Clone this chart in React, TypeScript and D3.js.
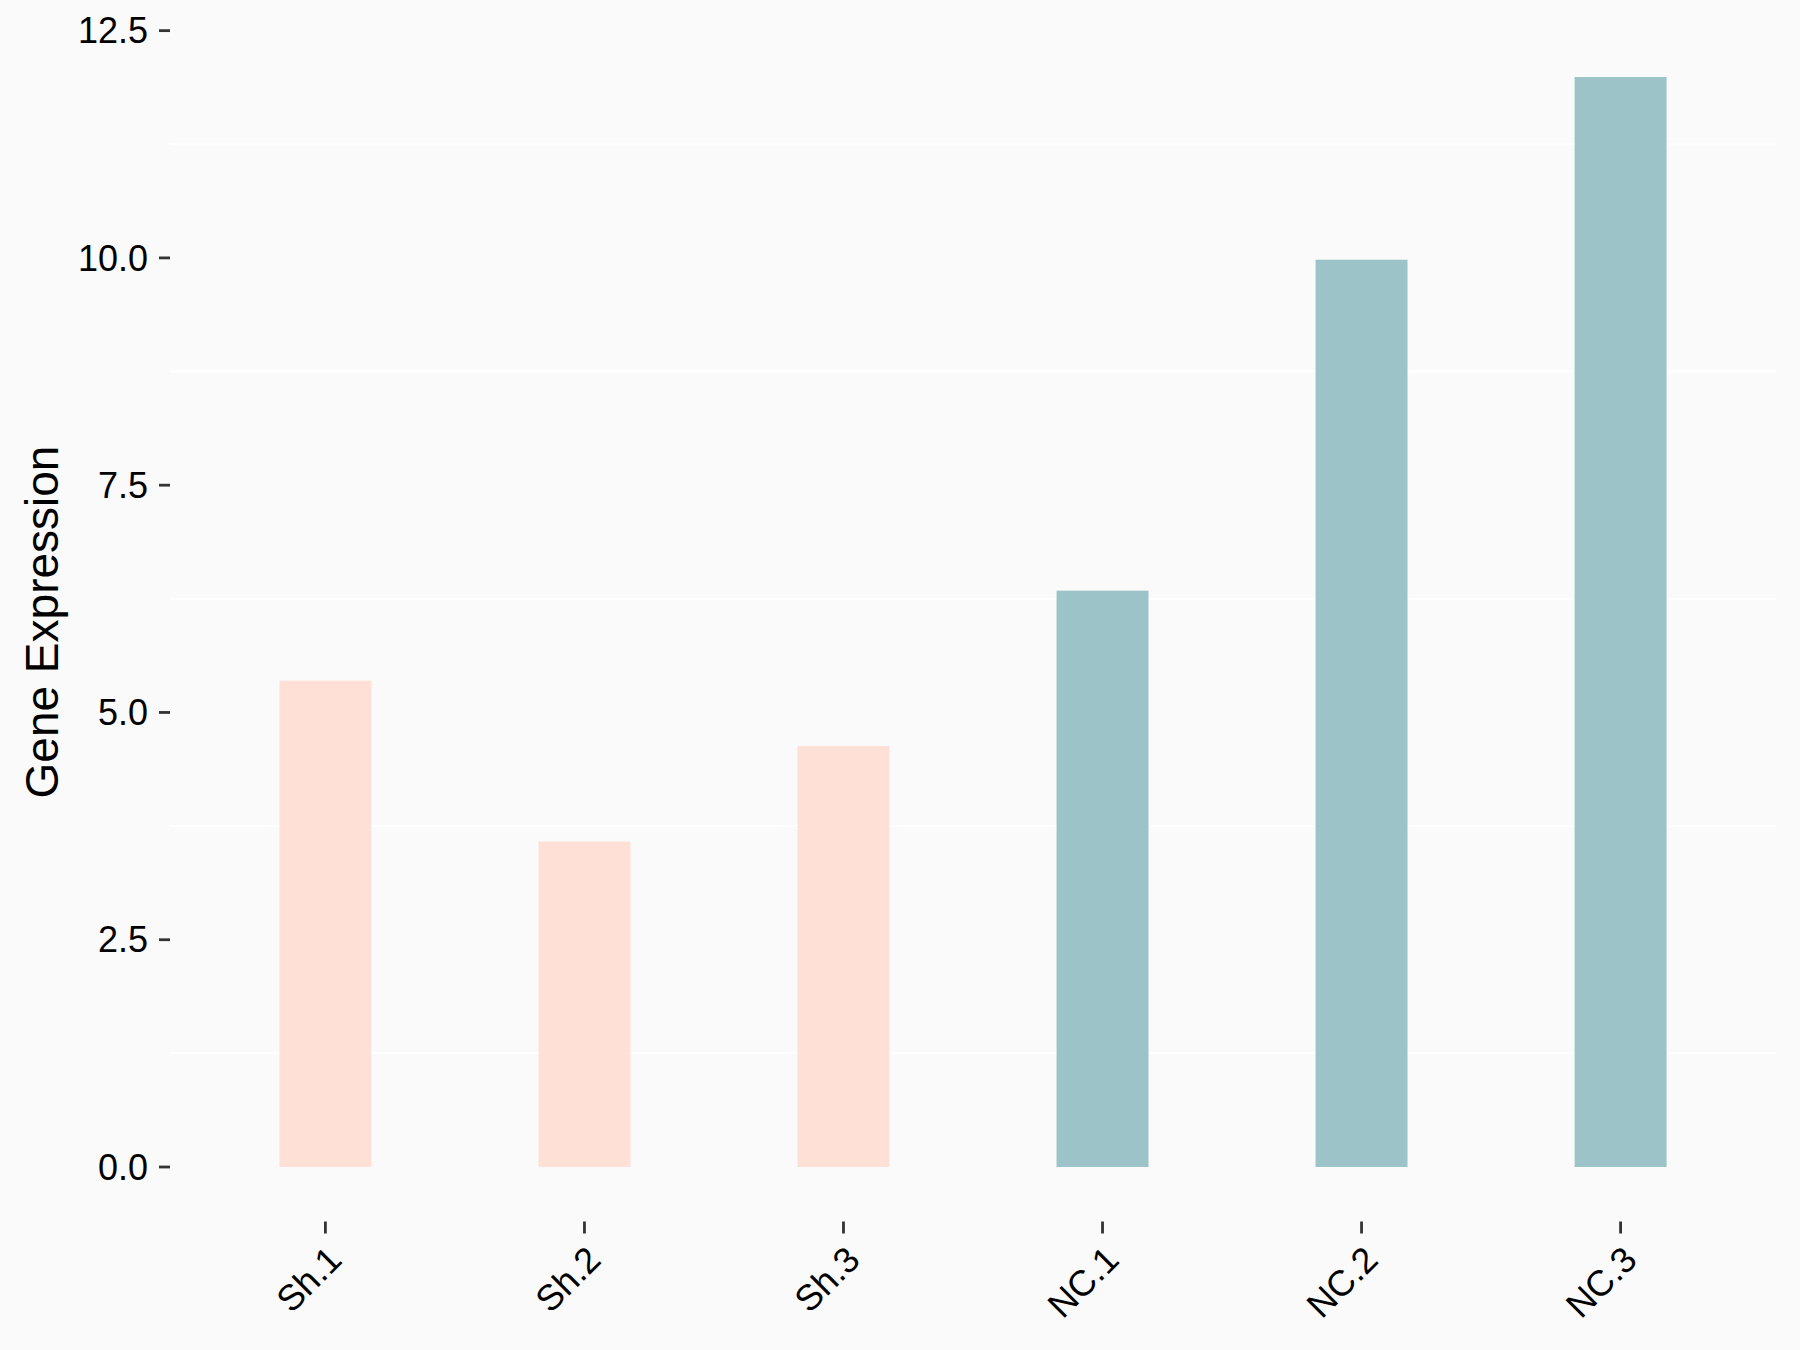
import React from "react";
import * as d3 from "d3";

const categories = ["Sh.1", "Sh.2", "Sh.3", "NC.1", "NC.2", "NC.3"];
const values = [5.35, 3.58, 4.63, 6.34, 9.98, 11.99];
const groups = ["Sh", "Sh", "Sh", "NC", "NC", "NC"];
const yTicks = [0, 2.5, 5, 7.5, 10, 12.5];
const yMinor = [1.25, 3.75, 6.25, 8.75, 11.25];
const groupColors: Record<string, string> = { Sh: "#FEE0D6", NC: "#9CC4C8" };

export default function App() {
  const W = 1800, H = 1350;
  const left = 170, right = 1776, top = 22.5, bottom = 1221.5;
  const font = "'Liberation Sans', Arial, sans-serif";

  const yMax = d3.max(values)!;
  const pad = yMax * 0.05;
  const y = d3.scaleLinear().domain([-pad, yMax + pad]).range([bottom, top]);
  // discrete scale with 0.6 expansion
  const x = d3
    .scaleLinear()
    .domain([0.4, categories.length + 0.6])
    .range([left, right]);
  const unit = x(2) - x(1);
  const barW = unit * 0.355;

  return (
    <svg width={W} height={H} style={{ display: "block", position: "absolute", left: 0, top: 0 }}>
      <rect x={0} y={0} width={W} height={H} fill="#FAFAFA" />
      {yMinor.map((v) => (
        <line key={v} x1={left} x2={right} y1={y(v)} y2={y(v)} stroke="#FFFFFF" strokeWidth={2} />
      ))}
      {categories.map((c, i) => (
        <rect
          key={c}
          x={x(i + 1) - barW / 2}
          y={y(values[i])}
          width={barW}
          height={y(0) - y(values[i])}
          fill={groupColors[groups[i]]}
        />
      ))}
      {yTicks.map((t) => (
        <g key={t}>
          <line x1={left - 11} x2={left} y1={y(t)} y2={y(t)} stroke="#333333" strokeWidth={2.8} />
          <text
            x={left - 22}
            y={y(t)}
            dy="0.35em"
            textAnchor="end"
            fontFamily={font}
            fontSize={36}
            fill="#000"
          >
            {d3.format(".1f")(t)}
          </text>
        </g>
      ))}
      {categories.map((c, i) => (
        <g key={c}>
          <line x1={x(i + 1)} x2={x(i + 1)} y1={bottom} y2={bottom + 12} stroke="#333333" strokeWidth={2.8} />
          <text
            transform={`translate(${x(i + 1)},${bottom + 22}) rotate(-45)`}
            dy="0.72em"
            textAnchor="end"
            fontFamily={font}
            fontSize={36}
            fill="#000"
          >
            {c}
          </text>
        </g>
      ))}
      <text
        transform={`translate(58,${(top + bottom) / 2}) rotate(-90)`}
        textAnchor="middle"
        fontFamily={font}
        fontSize={46}
        fill="#000"
      >
        Gene Expression
      </text>
    </svg>
  );
}
